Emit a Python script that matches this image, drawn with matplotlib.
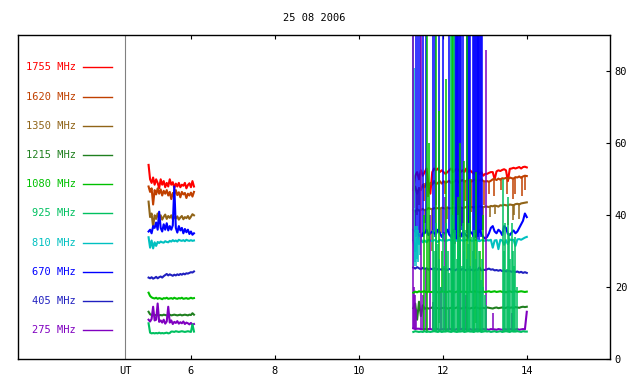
import matplotlib
matplotlib.use("Agg")
import matplotlib.pyplot as plt
import matplotlib.transforms as mtransforms
import numpy as np

plt.rcParams["font.family"] = "DejaVu Sans Mono"
plt.rcParams["font.size"] = 7.5

TITLE = "25 08 2006"
UT_HOUR = 4.45

# sampling of the two observing runs (hours UT)
T1_START, T1_END, N1 = 5.0, 6.08, 31
T2_START, T2_END, N2 = 11.3, 14.0, 61

labels = ["1755 MHz", "1620 MHz", "1350 MHz", "1215 MHz", "1080 MHz",
          "925 MHz", "810 MHz", "670 MHz", "405 MHz", "275 MHz"]
colors = ["#ff0000", "#c04000", "#906418", "#208020", "#00c000",
          "#00c060", "#00c0c0", "#0000ff", "#2020c0", "#8000c0"]

# ---- first run (5.0 - 6.1 UT)
f1755_a = [54, 50, 49, 50.5, 48.5, 50, 49, 47.5, 50, 48.5, 49.5, 47.8, 49, 48, 50, 48.5,
           49.2, 47.6, 48.8, 48, 49, 47.8, 48.5, 48.2, 49, 47.5, 48.4, 48.9, 47.8, 49.5, 48]
f1620_a = [48, 46.5, 47.5, 43, 47, 45.8, 47.5, 46, 47.2, 45.5, 46.8, 46, 47, 45.5, 46.5, 44.5,
           46.2, 45.8, 47, 45.6, 46.4, 45, 46.5, 45.8, 46.2, 44.8, 46, 45.5, 46.3, 45.2, 46.5]
f1350_a = [43.8, 39.5, 40.5, 36.8, 40, 39, 40.5, 39.2, 40, 38.8, 39.6, 40.2, 39, 39.8, 39.3, 40,
           38.9, 39.5, 39.1, 39.7, 38.8, 39.4, 39.8, 38.9, 39.5, 39.2, 39.8, 39, 39.6, 40.3, 40]
f1215_a = [13.2, 12.5, 12.3, 12.4, 12.2, 12.3, 12.4, 12.2, 12.3, 12.2, 12.4, 12.3, 12.2, 12.3, 12.4, 12.2,
           12.3, 12.4, 12.3, 12.2, 12.3, 12.4, 12.2, 12.3, 12.4, 12.3, 12.2, 12.4, 12.3, 12.8, 12.4]
f1080_a = [18.5, 17.6, 17.2, 17, 16.9, 17.1, 16.8, 17, 16.9, 16.7, 17, 16.9, 17.1, 16.8, 16.9, 17,
           16.8, 17.1, 16.9, 16.8, 17, 16.9, 17.1, 16.8, 16.9, 17, 16.8, 16.9, 17.1, 16.9, 17]
f925_a = [10, 7.4, 7.2, 7.3, 7.2, 7.3, 7.2, 7.4, 7.2, 7.3, 7.2, 7.3, 7.4, 7.2, 7.3, 7.7,
          7.7, 7.6, 7.8, 7.7, 7.6, 7.7, 7.8, 7.7, 7.6, 7.7, 7.8, 7.7, 7.6, 9.7, 7.7]
f810_a = [33.9, 31, 33, 30.8, 32.5, 31.5, 32.6, 32.3, 32.7, 32.5, 32.4, 32.8, 32.6, 32.5, 32.9, 32.7,
          33.1, 32.8, 33, 32.7, 33.2, 33, 32.9, 33.1, 32.8, 33.2, 33, 32.9, 33.1, 32.9, 33]
f670_a = [35.5, 36, 35, 37, 36.5, 38, 36, 41, 36.5, 35.5, 37.5, 36, 37.8, 35.8, 37, 36,
          37.2, 48, 36.5, 35.2, 37, 35.8, 36.5, 35, 36.2, 35.3, 36, 34.8, 35.5, 34.6, 35]
f405_a = [22.7, 22.5, 22.8, 22.4, 22.6, 22.9, 22.5, 22.8, 23, 22.7, 23.1, 23.4, 23.7, 23.3, 23.6, 23.4,
          23.2, 23.5, 23.3, 23.6, 23.4, 23.7, 23.5, 23.8, 23.6, 23.9, 23.8, 24, 24.2, 24.1, 24.4]
f275_a = [11, 10.5, 11.2, 14.6, 10.8, 11, 15.5, 10.4, 10.8, 10.2, 11, 9.9, 10.5, 14.6, 10.2, 10.8,
          9.8, 10.4, 10.1, 10.6, 9.9, 10.3, 10, 10.5, 9.8, 10.2, 10, 9.7, 10.1, 9.6, 9.8]

# ---- second run (11.3 - 14.0 UT): slowly varying level
f1755_b = [47, 51, 52, 50, 52.5, 51, 52, 53, 48, 46, 52, 53, 52.5, 53, 52, 52.5,
           52, 51.5, 52, 52.5, 53, 52, 52.5, 53, 52.5, 52, 52.5, 52, 53, 52, 52.5,
           52, 51.5, 52, 52, 51.5, 52, 51, 51.5, 51.5, 51.8, 52, 52, 50, 52.2, 52.5,
           52.3, 52.6, 52.8, 52.5, 49.5, 52.9, 53, 53.2, 53, 53.2, 53.4, 53, 53.4, 53.5, 53.3]
f1620_b = [47, 48, 46, 47.5, 47, 48.5, 47.8, 49, 48, 49, 48.5, 49.5, 48.6, 49, 49.5, 48.8,
           49.5, 49, 49.3, 49.6, 49, 49.2, 49.5, 49.8, 49.1, 49.5, 49.8, 49.3, 49.6, 50, 49.5,
           49.4, 49.8, 50, 49.6, 49.7, 50, 49.5, 49.4, 49.5, 49.3, 49.6, 50, 50.1, 49.8, 50.2,
           49.9, 50.3, 50.2, 50.4, 50, 50.5, 50.3, 50.2, 50.6, 50.5, 50.8, 50.4, 50.8, 51, 50.9]
f1350_b = [41.5, 41, 41.7, 41.3, 41.5, 41.8, 41.4, 41.6, 42, 41.8, 41.7, 42, 41.9, 42, 41.8, 42.1,
           42, 41.8, 42.2, 41.9, 42, 42.2, 42.1, 41.9, 42.3, 42.2, 42, 42.1, 42.3, 42.4, 42.2,
           42.3, 42.1, 42.4, 42.3, 42.5, 42.4, 42.2, 42.5, 42.4, 42.3, 42.6, 42.5, 42.7, 42.6, 42.4,
           42.8, 42.7, 42.9, 42.8, 42.7, 43, 42.9, 42.8, 43.1, 43.2, 43, 43.3, 43.4, 43.5, 43.6]
f1215_b = [14.2, 15.5, 11, 16, 12, 15, 14, 14.3, 14.1, 14.2, 14.4, 14.1, 14.3, 14.2, 14, 14.3,
           14.2, 14.4, 14.1, 14.2, 14.3, 14.1, 14.2, 14.4, 14.3, 14.1, 14.2, 14.3, 14.4, 14.2, 14.1,
           14.3, 14.2, 14.4, 14.3, 14.1, 14.2, 14.3, 14.2, 14.4, 14.3, 14.2, 14.1, 14.3, 14.4, 14.2,
           14.3, 14.4, 14.2, 14.3, 14.5, 14.3, 14.4, 14.2, 14.5, 14.4, 14.3, 14.5, 14.6, 14.5, 14.6]
f1080_b = [18.5, 18.8, 18.6, 18.9, 18.7, 18.8, 18.9, 18.6, 18.8, 18.7, 18.7, 18.8, 18.9, 18.6, 18.6, 18.8,
           18.8, 18.7, 18.7, 18.9, 18.8, 18.7, 18.6, 18.8, 18.9, 18.7, 18.8, 18.8, 18.7, 18.6, 18.8,
           18.7, 18.9, 18.8, 18.8, 18.6, 18.7, 18.8, 18.7, 18.8, 18.9, 18.7, 18.8, 18.9, 18.7, 18.8,
           18.9, 18.7, 18.8, 18.6, 18.8, 18.9, 18.7, 18.8, 18.9, 18.7, 18.8, 18.9, 18.8, 18.7, 18.8]
f925_b = [7.6, 7.8, 7.7, 7.6, 7.7, 7.6, 7.8, 7.6, 7.7, 7.6, 7.7, 7.8, 7.7, 7.6, 7.8, 7.6,
          7.7, 7.7, 7.8, 7.7, 7.6, 7.8, 7.7, 7.6, 7.7, 7.7, 7.8, 7.6, 7.7, 7.8, 7.7,
          7.7, 7.6, 7.8, 7.7, 7.8, 7.6, 7.7, 7.8, 7.7, 7.8, 7.6, 7.7, 7.8, 7.6, 7.7,
          7.8, 7.6, 7.7, 7.8, 7.7, 7.6, 7.8, 7.7, 7.7, 7.8, 7.7, 7.6, 7.8, 7.7, 7.7]
f810_b = [33, 30, 33.5, 32, 33.4, 32.5, 33, 32.5, 33.2, 33, 32.8, 33.1, 33, 32.6, 33.2, 33,
          33.1, 32.8, 33, 33.2, 33, 32.9, 33.1, 33, 32.8, 33.1, 33, 32.9, 33.2, 33, 33.1,
          32.9, 33, 33.2, 33, 32.8, 33.1, 33, 32.9, 33.1, 33, 33.2, 31, 33, 33.1, 30.6,
          33.2, 33, 31.8, 33.1, 32, 33.3, 33.1, 33.2, 31.5, 33.3, 33.4, 33.2, 33.5, 33.8, 34]
f670_b = [36, 35.5, 35, 34.5, 34, 35, 35, 36, 34.5, 35, 35.5, 35, 34.8, 36, 35.2, 34,
          35, 35, 36, 34.6, 34, 36, 35, 33, 34.5, 34, 35.2, 35, 34.4, 34, 35.5,
          35, 34.2, 34, 35, 36, 34.8, 34, 33.5, 34, 35, 36.5, 37, 35.5, 35, 36,
          35.5, 34.5, 37, 36.5, 34.8, 34.5, 35.2, 35.8, 35, 35.5, 36.5, 37.5, 38.5, 40.5, 39.5]
f405_b = [25.5, 25.2, 25.6, 25.3, 25, 25.4, 25.1, 25.3, 24.9, 25.2, 25, 25.3, 24.8, 25.1, 25, 24.9,
          25.2, 25, 24.8, 25.1, 24.9, 25, 24.7, 25, 24.9, 24.8, 25.1, 24.9, 24.7, 25, 24.8,
          24.9, 24.6, 24.9, 24.8, 25.5, 24.7, 24.9, 24.8, 25, 25.2, 24.9, 25, 24.7, 24.8, 24.6,
          24.8, 24.5, 24.7, 24.4, 24.6, 24.5, 24.3, 24.5, 24.2, 24.4, 24.1, 24.3, 24, 24.2, 24]
f275_b = [8.6, 8.4, 8.5, 8.5, 8.4, 8.3, 8.4, 8.3, 8.4, 8.4, 8.3, 8.3, 8.5, 8.4, 8.2, 8.3,
          8.4, 8.3, 8.3, 8.5, 8.3, 8.4, 8.2, 8.4, 8.3, 8.3, 8.5, 8.4, 8.3, 8.2, 8.4,
          8.2, 8.3, 8.3, 8.4, 8.2, 8.3, 8.4, 8.3, 8.3, 8.2, 8.4, 8.3, 8.3, 8.2, 8.4,
          8.3, 8.2, 8.4, 8.3, 8.3, 8.4, 8.3, 8.2, 8.3, 8.4, 8.2, 8.3, 8.4, 8.3, 13.2]

# ---- single-sample excursions during the burst (time UT, low, high)
bursts_1620 = [(11.32, 42, 47), (11.39, 40, 47), (11.44, 43, 48), (11.55, 44, 49), (11.66, 45, 49),
               (11.83, 43, 49), (12.05, 46, 49.5), (12.25, 43, 49.5), (12.40, 47, 49.8),
               (12.52, 44, 49.8), (12.68, 41, 50), (12.83, 45, 50), (12.98, 43, 49.5),
               (13.10, 46, 49.6), (13.22, 45.5, 50.1), (13.38, 47, 50.3), (13.52, 46, 50.4),
               (13.68, 44.5, 50.5), (13.72, 46, 50.6), (13.88, 45.5, 50.8), (13.95, 47, 51)]
bursts_1350 = [(11.35, 36, 41.5), (11.45, 33, 41.6), (11.58, 38, 41.8), (11.75, 30, 42),
               (11.95, 35, 42), (12.10, 39, 42.1), (12.30, 32, 42.2), (12.45, 37, 42.3),
               (12.62, 34, 42.4), (12.80, 38, 42.4), (12.95, 36, 42.5), (13.12, 39.6, 42.6),
               (13.25, 40.5, 42.7), (13.55, 37.3, 42.9), (13.66, 38.7, 43.1), (13.70, 40, 43.1),
               (13.82, 39, 43.3)]
bursts_670 = [(11.36, 34, 95), (11.42, 33, 95), (11.47, 35, 95), (11.52, 34, 95), (11.60, 36, 95),
              (11.78, 35, 95), (11.82, 34, 95), (11.92, 35, 95), (12.00, 33, 95), (12.16, 35, 95),
              (12.29, 34, 95), (12.31, 33, 95), (12.33, 35, 95), (12.35, 34, 95), (12.37, 33, 95),
              (12.39, 35, 95), (12.41, 34, 95), (12.43, 36, 95), (12.49, 34, 95), (12.57, 35, 95),
              (12.60, 33, 95), (12.63, 34, 95), (12.65, 35, 95), (12.73, 34, 95), (12.75, 33, 95),
              (12.77, 35, 95), (12.79, 34, 95), (12.81, 33, 95), (12.83, 35, 95), (12.85, 34, 95),
              (12.87, 33, 95), (12.89, 35, 95), (12.91, 34, 95), (12.93, 36, 95)]
bursts_1080 = [(11.55, 8, 40), (11.62, 8, 95), (11.67, 18.8, 60), (11.84, 8, 95), (11.90, 10, 69),
               (11.99, 18.8, 30), (12.07, 8, 78), (12.21, 8, 95), (12.25, 12, 95), (12.36, 8, 45),
               (12.42, 18.8, 60), (12.50, 8, 55), (12.58, 8, 95), (12.66, 18.8, 50), (12.74, 8, 35),
               (12.80, 10, 52), (12.88, 8, 30), (12.96, 18.8, 40)]
bursts_925 = [(11.78, 7.7, 36), (11.80, 7.7, 30), (11.82, 7.7, 25), (11.84, 7.7, 38), (11.88, 7.7, 32),
              (11.92, 7.7, 28), (11.96, 7.7, 20), (12.00, 7.7, 35), (12.04, 7.7, 26), (12.08, 7.7, 38),
              (12.12, 7.7, 30), (12.16, 7.7, 24), (12.20, 7.7, 95), (12.22, 7.7, 40), (12.24, 7.7, 33),
              (12.27, 7.7, 95), (12.30, 7.7, 36), (12.33, 7.7, 28), (12.36, 7.7, 40), (12.39, 7.7, 30),
              (12.42, 7.7, 34), (12.45, 7.7, 26), (12.48, 7.7, 38), (12.51, 7.7, 30), (12.54, 7.7, 36),
              (12.57, 7.7, 28), (12.60, 7.7, 32), (12.63, 7.7, 38), (12.66, 7.7, 26), (12.69, 7.7, 34),
              (12.72, 7.7, 30), (12.75, 7.7, 36), (12.78, 7.7, 28), (12.81, 7.7, 33), (12.84, 7.7, 25),
              (12.87, 7.7, 30), (12.90, 7.7, 22), (12.93, 7.7, 28), (12.96, 7.7, 20), (13.00, 7.7, 18),
              (13.03, 7.7, 15), (13.43, 7.7, 50), (13.46, 7.7, 30), (13.49, 7.7, 38), (13.52, 7.7, 25),
              (13.55, 7.7, 45), (13.58, 7.7, 35), (13.61, 7.7, 28), (13.64, 7.7, 38), (13.67, 7.7, 30),
              (13.70, 7.7, 26), (13.73, 7.7, 34), (13.76, 7.7, 20)]
bursts_810 = [(11.30, 33, 95), (11.32, 26, 81), (11.34, 27, 37), (11.36, 26, 36), (11.39, 28, 37),
              (11.42, 27, 36), (11.45, 29, 35)]
bursts_275 = [(11.30, 8.5, 95), (11.32, 8.5, 20), (11.34, 8.5, 18), (11.37, 8.4, 14), (11.48, 8.4, 95),
              (11.52, 8.3, 18), (11.60, 8.3, 25), (11.70, 8.3, 40), (11.78, 8.3, 16), (11.85, 8.3, 30),
              (11.95, 8.3, 20), (12.05, 8.3, 45), (12.15, 8.3, 14), (12.25, 8.3, 22), (12.40, 8.3, 35),
              (12.55, 8.3, 18), (13.04, 8.3, 86), (13.20, 8.3, 13), (13.65, 8.3, 13)]

run_a = [f1755_a, f1620_a, f1350_a, f1215_a, f1080_a, f925_a, f810_a, f670_a, f405_a, f275_a]
run_b = [f1755_b, f1620_b, f1350_b, f1215_b, f1080_b, f925_b, f810_b, f670_b, f405_b, f275_b]
bursts = [[], bursts_1620, bursts_1350, [], bursts_1080, bursts_925, bursts_810,
          bursts_670, [], bursts_275]

# drawing order (index into the lists above): last one ends up on top
draw_order = [0, 1, 2, 3, 8, 7, 6, 9, 4, 5]


def main() -> None:
    t1 = np.linspace(T1_START, T1_END, N1)
    t2 = np.linspace(T2_START, T2_END, N2)

    fig = plt.figure(figsize=(6.4, 3.84), dpi=100)
    ax = fig.add_axes([18.3 / 640, 24.7 / 384, 591.7 / 640, 324 / 384])

    for k in draw_order:
        ax.plot(t1, run_a[k], color=colors[k], lw=1.5)
        ax.plot(t2, run_b[k], color=colors[k], lw=1.5)
        if bursts[k]:
            bt, blo, bhi = zip(*bursts[k])
            ax.vlines(bt, blo, bhi, color=colors[k], lw=1.1)

    # legend drawn inside the frame, label left of the line
    for k, (lab, col) in enumerate(zip(labels, colors)):
        y = 0.901 - 0.0901 * k
        ax.text(0.0975, y, lab, color=col, ha="right", va="center",
                transform=ax.transAxes)
        ax.plot([0.1094, 0.1584], [y, y], color=col, lw=1.0,
                transform=ax.transAxes)

    ax.axvline(UT_HOUR, color="#808080", lw=0.8)
    trans = mtransforms.blended_transform_factory(ax.transData, ax.transAxes)
    ax.text(UT_HOUR, -0.036, "UT", ha="center", va="center", transform=trans)

    ax.set_xlim(1.9, 15.98)
    ax.set_ylim(0, 90)
    ax.set_xticks([6, 8, 10, 12, 14])
    ax.set_yticks([0, 20, 40, 60, 80])
    ax.yaxis.tick_right()
    ax.tick_params(axis="x", direction="in", top=True, length=3, width=0.8, pad=5)
    ax.tick_params(axis="y", direction="in", right=True, left=False, length=3,
                   width=0.8, pad=3.5)
    for sp in ax.spines.values():
        sp.set_linewidth(1.0)

    fig.text(314 / 640, 1 - 18 / 384, TITLE, ha="center", va="center")

    fig.savefig("out.png", dpi=100)


if __name__ == "__main__":
    main()
